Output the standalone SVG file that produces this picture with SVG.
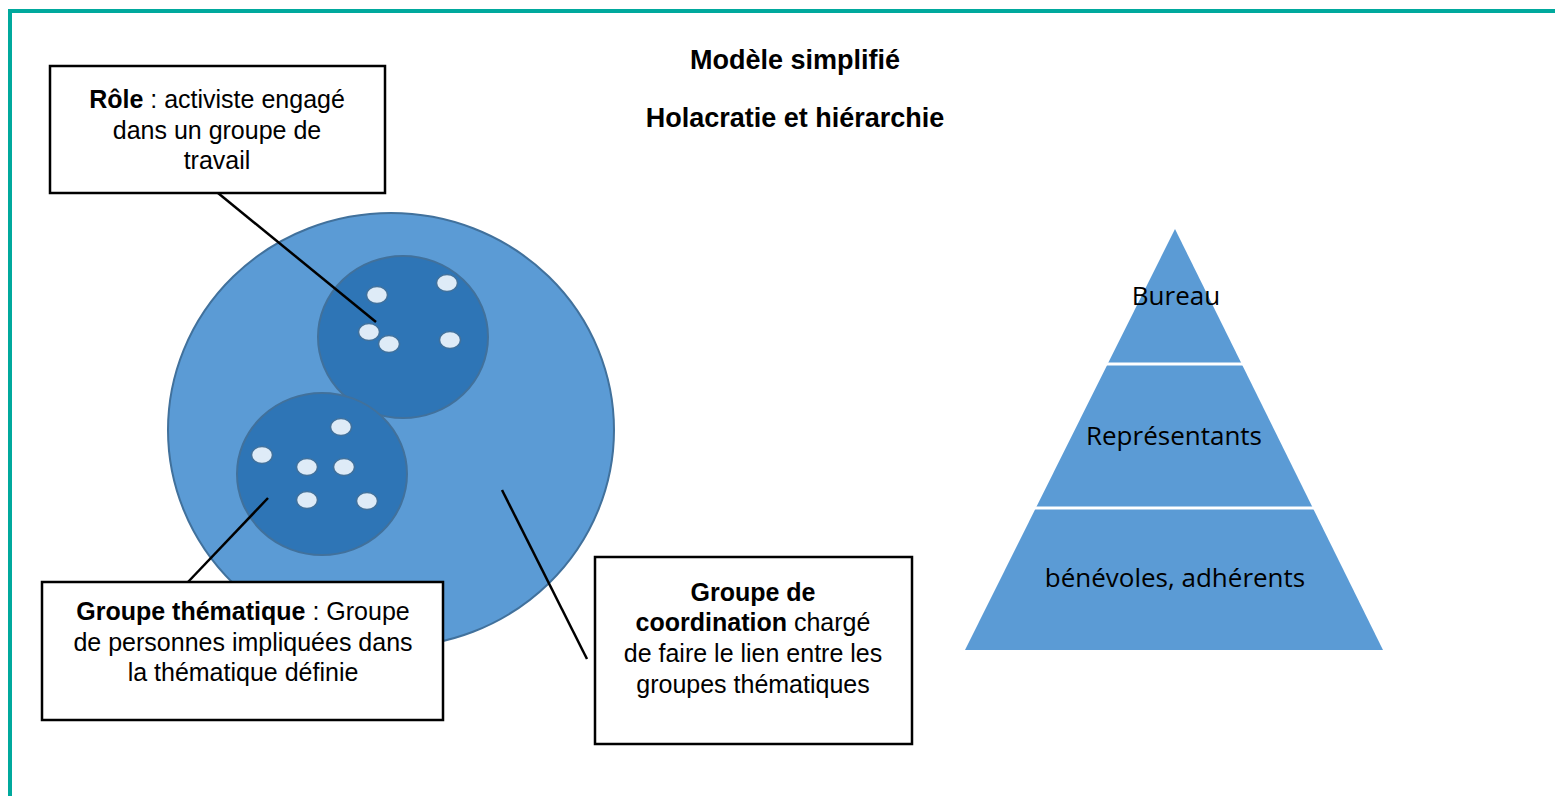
<svg xmlns="http://www.w3.org/2000/svg" width="1555" height="796" viewBox="0 0 1555 796">
<style>
.t{font-family:"Liberation Sans",Arial,sans-serif;font-size:25px;fill:#000;text-anchor:middle}
.b{font-weight:bold}
.title{font-family:"Liberation Sans",Arial,sans-serif;font-size:27px;font-weight:bold;text-anchor:middle}
.box{fill:#fff;stroke:#000;stroke-width:2.5}
.dot{fill:#DEEBF7;stroke:#41719C;stroke-width:1.5}
.pt{font-family:"Open Sans","Noto Sans",sans-serif;font-size:26px;text-anchor:middle;fill:#000}
.con{stroke:#000;stroke-width:2.5;fill:none}
</style>
<rect width="1555" height="796" fill="#fff"/>
<path d="M10,800 V11 H1555" fill="none" stroke="#00A99D" stroke-width="4"/>
<g id="title">
<text class="title" x="795" y="69">Modèle simplifié</text>
<text class="title" x="795" y="127">Holacratie et hiérarchie</text>
</g>
<g id="coordination-circle">
<ellipse cx="391" cy="430" rx="223" ry="217" fill="#5B9BD5" stroke="#41719C" stroke-width="2"/>
</g>
<g id="groupe-1">
<ellipse cx="403" cy="337" rx="85" ry="81" fill="#2E75B6" stroke="#41719C" stroke-width="2"/>
<ellipse class="dot" cx="377" cy="295" rx="10.5" ry="8.5"/>
<ellipse class="dot" cx="447" cy="283" rx="10.5" ry="8.5"/>
<ellipse class="dot" cx="369" cy="332" rx="10.5" ry="8.5"/>
<ellipse class="dot" cx="389" cy="344" rx="10.5" ry="8.5"/>
<ellipse class="dot" cx="450" cy="340" rx="10.5" ry="8.5"/>
</g>
<g id="groupe-2">
<ellipse cx="322" cy="474" rx="85" ry="81" fill="#2E75B6" stroke="#41719C" stroke-width="2"/>
<ellipse class="dot" cx="341" cy="427" rx="10.5" ry="8.5"/>
<ellipse class="dot" cx="262" cy="455" rx="10.5" ry="8.5"/>
<ellipse class="dot" cx="307" cy="467" rx="10.5" ry="8.5"/>
<ellipse class="dot" cx="344" cy="467" rx="10.5" ry="8.5"/>
<ellipse class="dot" cx="307" cy="500" rx="10.5" ry="8.5"/>
<ellipse class="dot" cx="367" cy="501" rx="10.5" ry="8.5"/>
</g>
<g id="connectors">
<line class="con" x1="218" y1="193" x2="376" y2="322"/>
<line class="con" x1="188" y1="582" x2="268" y2="498"/>
<line class="con" x1="502" y1="490" x2="587" y2="659"/>
</g>
<g id="role-box">
<rect class="box" x="50" y="66" width="335" height="127"/>
<text class="t" x="217" y="108"><tspan class="b">Rôle</tspan> : activiste engagé</text>
<text class="t" x="217" y="139">dans un groupe de</text>
<text class="t" x="217" y="169">travail</text>
</g>
<g id="thematique-box">
<rect class="box" x="42" y="582" width="401" height="138"/>
<text class="t" x="243" y="620"><tspan class="b">Groupe thématique</tspan> : Groupe</text>
<text class="t" x="243" y="651">de personnes impliquées dans</text>
<text class="t" x="243" y="681">la thématique définie</text>
</g>
<g id="coordination-box">
<rect class="box" x="595" y="557" width="317" height="187"/>
<text class="t" x="753" y="601"><tspan class="b">Groupe de</tspan></text>
<text class="t" x="753" y="631"><tspan class="b">coordination</tspan> chargé</text>
<text class="t" x="753" y="662">de faire le lien entre les</text>
<text class="t" x="753" y="693">groupes thématiques</text>
</g>
<g id="pyramide">
<polygon points="1175,229 965,650 1383,650" fill="#5B9BD5"/>
<line x1="1100" y1="364" x2="1250" y2="364" stroke="#fff" stroke-width="3"/>
<line x1="1030" y1="508" x2="1320" y2="508" stroke="#fff" stroke-width="3"/>
<text class="pt" x="1176" y="305">Bureau</text>
<text class="pt" x="1174" y="445">Représentants</text>
<text class="pt" x="1175" y="587">bénévoles, adhérents</text>
</g>
</svg>
